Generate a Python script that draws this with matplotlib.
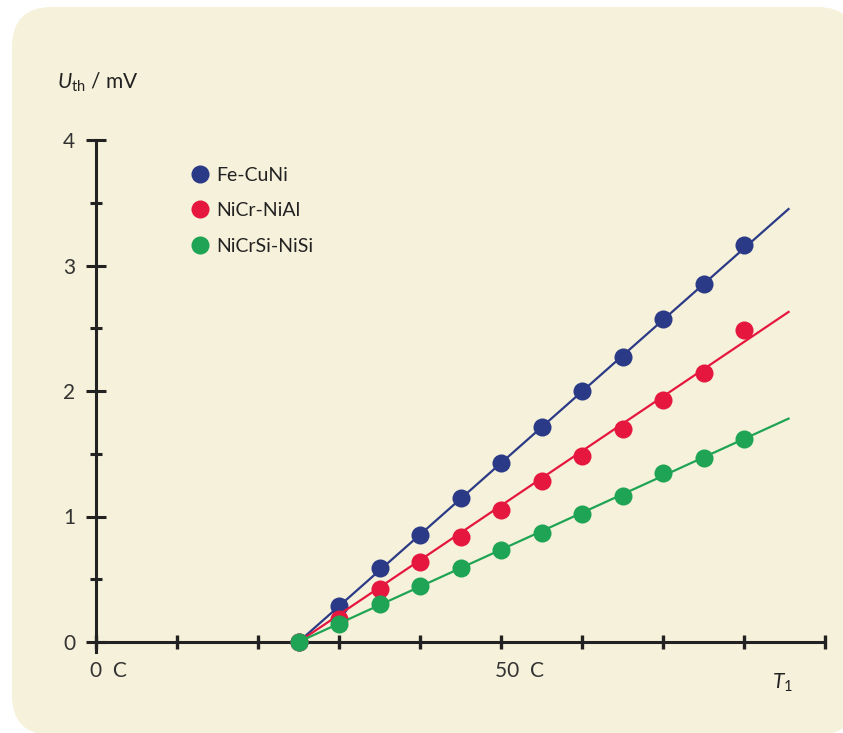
import matplotlib
matplotlib.use("Agg")
import matplotlib.pyplot as plt
import matplotlib.transforms as mtransforms
from matplotlib.patches import FancyBboxPatch
from matplotlib.lines import Line2D

plt.rcParams['font.family'] = ['Lato', 'DejaVu Sans']
plt.rcParams['mathtext.fontset'] = 'custom'
plt.rcParams['mathtext.rm'] = 'Lato'
plt.rcParams['mathtext.it'] = 'Lato:italic'

# measured temperatures T1 in deg C and thermo voltages in mV
temps = [25, 30, 35, 40, 45, 50, 55, 60, 65, 70, 75, 80]
names = ["Fe-CuNi", "NiCr-NiAl", "NiCrSi-NiSi"]
u_fecuni = [0.0, 0.29, 0.59, 0.85, 1.15, 1.43, 1.71, 2.00, 2.27, 2.57, 2.85, 3.16]
u_nicr = [0.0, 0.18, 0.42, 0.64, 0.84, 1.05, 1.28, 1.48, 1.70, 1.93, 2.14, 2.49]
u_nicrsi = [0.0, 0.14, 0.30, 0.45, 0.59, 0.73, 0.87, 1.02, 1.16, 1.35, 1.47, 1.62]
# fitted lines (start / end)
fit_t = [25, 85.5]
fit_fecuni = [0.0, 3.45]
fit_nicr = [0.0, 2.63]
fit_nicrsi = [0.0, 1.78]

colors = ["#2b3a86", "#e5173f", "#1fa455"]
bg = "#f6f1da"

fig = plt.figure(figsize=(8.43, 7.33), dpi=100, facecolor="white")

# beige rounded panel
panel = FancyBboxPatch((0.12 + 0.4, -0.02 + 0.4), 8.45 - 0.8, 7.28 - 0.8,
                       boxstyle="round,pad=0.4", transform=fig.dpi_scale_trans,
                       facecolor=bg, edgecolor="none", zorder=-1)
fig.patches.append(panel)

W, H = 843, 733
ax = fig.add_axes([96 / W, 1 - 642 / H, (825 - 96) / W, (642 - 140) / H])
ax.set_facecolor("none")
ax.set_xlim(0, 90)
ax.set_ylim(0, 4)

for s in ["top", "right"]:
    ax.spines[s].set_visible(False)
for s in ["left", "bottom"]:
    ax.spines[s].set_linewidth(2.2)
    ax.spines[s].set_color("#222222")
ax.spines["left"].set_bounds(-0.08, 4)

series = [u_fecuni, u_nicr, u_nicrsi]
fits = [fit_fecuni, fit_nicr, fit_nicrsi]
for vals, fit, c, z in zip(series, fits, colors, [3, 4, 5]):
    ax.plot(fit_t, fit, color=c, lw=1.6, zorder=z, clip_on=False)
    ax.plot(temps, vals, 'o', color=c, ms=13, mec='none', zorder=z, clip_on=False)

# ticks
ax.set_yticks([0, 1, 2, 3, 4])
ax.set_yticks([0.5, 1.5, 2.5, 3.5], minor=True)
ax.tick_params(axis='y', which='major', direction='inout', length=14, width=2.2,
               colors="#222222", labelsize=15, pad=8, labelcolor="#333333")
ax.tick_params(axis='y', which='minor', direction='inout', length=9, width=2.2,
               colors="#222222")
ax.set_xticks(range(0, 91, 10))
ax.set_xticklabels(["0  C", "", "", "", "", "50  C", "", "", "", ""])
ax.tick_params(axis='x', which='major', direction='inout', length=10, width=2.4,
               colors="#222222", labelsize=15, pad=9, labelcolor="#333333")
off = mtransforms.ScaledTranslation(-6 / 100, 0, fig.dpi_scale_trans)
for lab in ax.get_xticklabels():
    lab.set_horizontalalignment('left')
    lab.set_transform(lab.get_transform() + off)

fig.text(57 / W, 1 - 82 / H, r"$U_{\mathrm{th}}$ / mV", fontsize=15,
         color="#222222", va="center", ha="left")
fig.text(772 / W, 1 - 683 / H, r"$T_{1}$", fontsize=15, color="#222222",
         va="center", ha="left")

handles = [Line2D([], [], ls='none', marker='o', ms=13, mec='none', color=c)
           for c in colors]
leg = ax.legend(handles, names, loc='upper left', frameon=False,
                bbox_to_anchor=(182 / W, 1 - 157 / H), bbox_transform=fig.transFigure,
                borderpad=0, handlelength=0.9, handletextpad=0.35,
                labelspacing=0.95, fontsize=14)
for t in leg.get_texts():
    t.set_color("#222222")

fig.savefig("out.png", dpi=100, facecolor="white")
